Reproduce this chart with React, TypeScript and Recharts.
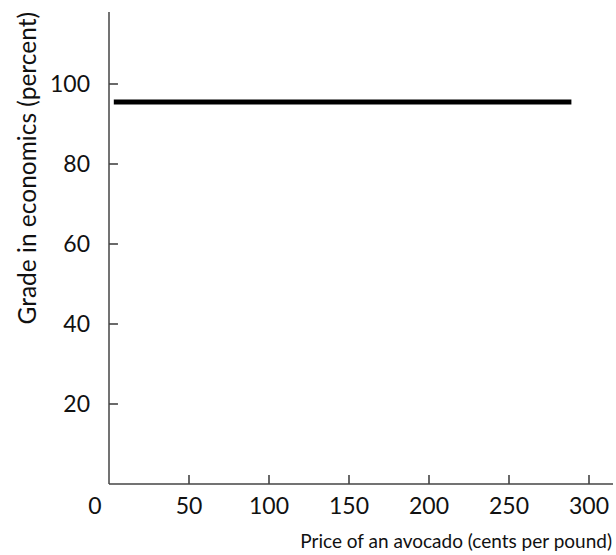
import { LineChart, Line, XAxis, YAxis, Label, ReferenceLine } from 'recharts';

const xTicks = [0, 50, 100, 150, 200, 250, 300];
const yTicks = [20, 40, 60, 80, 100];
const prices = [3, 289];
const grades = [95.5, 95.5];

const data = prices.map((p, i) => ({ price: p, grade: grades[i] }));

const FONT = 'Lato, sans-serif';
const AXIS = '#444';
// inward tick length in data units (about 9px each way)
const X_TICK_LEN = 2.25;
const Y_TICK_LEN = 5.6;

const XTick = (props: any) => {
  const x = Number(props.x);
  const v = props.payload.value;
  const dx = v === 0 ? -14 : 0;
  return (
    <text x={x + dx} y={498} dy="0.71em" textAnchor="middle" fontFamily={FONT} fontSize={23} fill="#111">
      {v}
    </text>
  );
};

const YTick = (props: any) => {
  const y = Number(props.y);
  const v = props.payload.value;
  return (
    <text x={90} y={y} dy="0.36em" textAnchor="end" fontFamily={FONT} fontSize={23} fill="#111">
      {v}
    </text>
  );
};

const YTitle = (props: any) => {
  const { viewBox } = props;
  const bx = viewBox.x - 72;
  const by = viewBox.y;
  return (
    <text x={bx} y={by} transform={`rotate(-90 ${bx} ${by})`} textAnchor="end" fontFamily={FONT} fontSize={24.5} fill="#111">
      Grade in economics (percent)
    </text>
  );
};

const XTitle = (props: any) => {
  const { viewBox } = props;
  return (
    <text x={viewBox.x + viewBox.width - 1} y={548} textAnchor="end" fontFamily={FONT} fontSize={19} fill="#111">
      Price of an avocado (cents per pound)
    </text>
  );
};

export default function App() {
  return (
    <div style={{ position: 'absolute', left: 0, top: 0, width: 616, height: 555, background: '#fff' }}>
      <LineChart width={616} height={555} data={data} margin={{ top: 12, right: 3, left: 108, bottom: 70 }}>
        <XAxis
          dataKey="price"
          type="number"
          domain={[0, 315]}
          ticks={xTicks}
          height={1}
          stroke={AXIS}
          strokeWidth={1.5}
          tick={XTick}
          tickLine={false}
        >
          <Label content={XTitle} />
        </XAxis>
        <YAxis
          type="number"
          domain={[0, 118]}
          ticks={yTicks}
          width={1}
          stroke={AXIS}
          strokeWidth={1.5}
          tick={YTick}
          tickLine={false}
        >
          <Label content={YTitle} />
        </YAxis>
        {xTicks.filter(t => t > 0).map(t => (
          <ReferenceLine
            key={`xt-${t}`}
            segment={[{ x: t, y: 0 }, { x: t, y: X_TICK_LEN }]}
            stroke={AXIS}
            strokeWidth={1.6}
          />
        ))}
        {yTicks.map(t => (
          <ReferenceLine
            key={`yt-${t}`}
            segment={[{ x: 0, y: t }, { x: Y_TICK_LEN, y: t }]}
            stroke={AXIS}
            strokeWidth={1.6}
          />
        ))}
        <Line
          dataKey="grade"
          stroke="#000"
          strokeWidth={5}
          dot={false}
          isAnimationActive={false}
        />
      </LineChart>
    </div>
  );
}
